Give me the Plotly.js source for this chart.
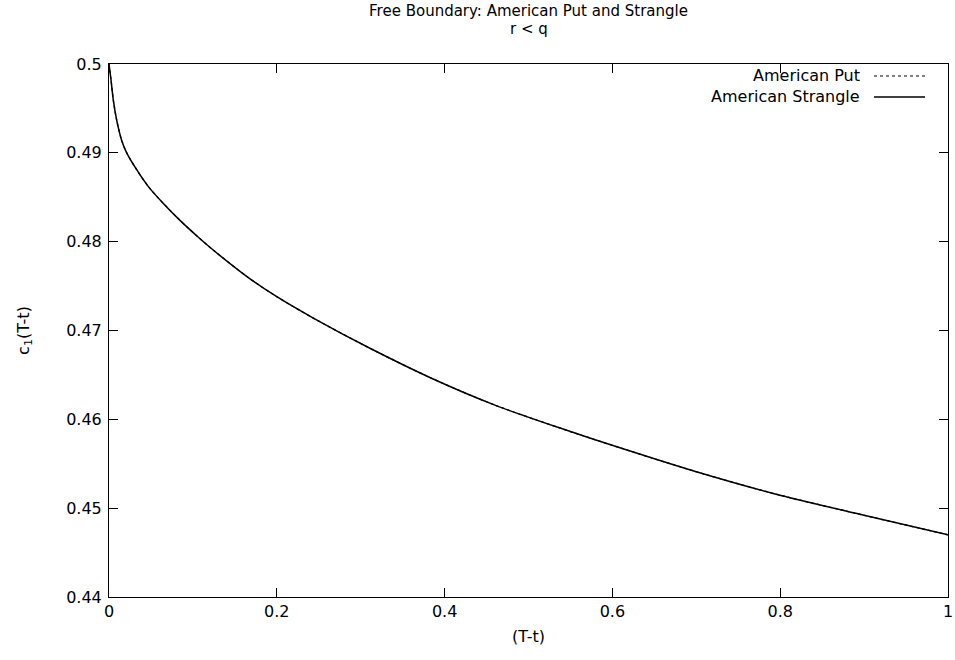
<!DOCTYPE html>
<html>
<head>
<meta charset="utf-8">
<script src="https://cdn.plot.ly/plotly-3.0.1.min.js"></script>
<style>body{margin:0;padding:0;background:#fff;}#chart{width:955px;height:660px;}</style>
</head>
<body>
<div id="chart"></div>
<script>
// Data
const tau = [0, 0.0024, 0.0052, 0.0091, 0.0151, 0.0211, 0.033, 0.0469, 0.0648, 0.0846, 0.1065, 0.1224, 0.164, 0.2, 0.2435, 0.311, 0.385, 0.46, 0.535, 0.609, 0.70, 0.794, 0.90, 1.0];
const putBoundary = [0.5, 0.4982, 0.4959, 0.4937, 0.4914, 0.4900, 0.4881, 0.4862, 0.4843, 0.4824, 0.4805, 0.4792, 0.4761, 0.4738, 0.4714, 0.4680, 0.4646, 0.4616, 0.4591, 0.4568, 0.4541, 0.4516, 0.4492, 0.4470];
const strangleBoundary = [0.5, 0.4982, 0.4959, 0.4937, 0.4914, 0.4900, 0.4881, 0.4862, 0.4843, 0.4824, 0.4805, 0.4792, 0.4761, 0.4738, 0.4714, 0.4680, 0.4646, 0.4616, 0.4591, 0.4568, 0.4541, 0.4516, 0.4492, 0.4470];
const seriesNames = ["American Put", "American Strangle"];
const titleLines = ["Free Boundary: American Put and Strangle", "r < q"];
const xTickVals = [0, 0.2, 0.4, 0.6, 0.8, 1];
const xTickText = ["0", "0.2", "0.4", "0.6", "0.8", "1"];
const yTickVals = [0.44, 0.45, 0.46, 0.47, 0.48, 0.49, 0.5];
const yTickText = ["0.44", "0.45", "0.46", "0.47", "0.48", "0.49", "0.5"];

const FONT = "DejaVu Sans, Liberation Sans, Arial, sans-serif";
const FS = 16;
const TFS = 15;

const traces = [
  {x: tau, y: putBoundary, name: seriesNames[0], mode: "lines", type: "scatter",
   line: {color: "#000", width: 1.3, dash: "3px,3px", shape: "spline", smoothing: 0.8}},
  {x: tau, y: strangleBoundary, name: seriesNames[1], mode: "lines", type: "scatter",
   line: {color: "#000", width: 1.5, shape: "spline", smoothing: 0.8}}
];

const layout = {
  width: 955, height: 660,
  margin: {l: 109, r: 7, t: 64, b: 63},
  paper_bgcolor: "#fff", plot_bgcolor: "#fff",
  showlegend: false,
  font: {family: FONT, size: FS, color: "#000"},
  title: {text: titleLines[0], x: 0.5, xanchor: "center", xref: "paper",
          y: 1 - 11 / 660, yanchor: "middle", font: {family: FONT, size: TFS, color: "#000"}},
  xaxis: {range: [0, 1], tickvals: xTickVals, ticktext: xTickText, ticks: "inside", ticklen: 9,
          tickcolor: "#000", showline: true, linecolor: "#000", linewidth: 1, mirror: "ticks",
          showgrid: false, zeroline: false, tickfont: {family: FONT, size: FS},
          title: {text: "(T-t)", font: {family: FONT, size: FS}, standoff: 10}},
  yaxis: {range: [0.44, 0.5], tickvals: yTickVals, ticktext: yTickText, ticks: "inside", ticklen: 9,
          tickcolor: "#000", showline: true, linecolor: "#000", linewidth: 1, mirror: "ticks",
          showgrid: false, zeroline: false, tickfont: {family: FONT, size: FS}, ticklabelstandoff: 3,
          title: {text: "c<sub>1</sub>(T-t)", font: {family: FONT, size: FS}, standoff: 32}},
  annotations: [
    {xref: "paper", yref: "paper", x: 0.5, y: (597 - 29) / 533, xanchor: "center", yanchor: "middle",
     text: titleLines[1], showarrow: false, font: {family: FONT, size: TFS}},
    {xref: "paper", yref: "paper", x: 0.8975, y: 0.9775, xanchor: "right", yanchor: "middle",
     text: seriesNames[0], showarrow: false, font: {family: FONT, size: FS}},
    {xref: "paper", yref: "paper", x: 0.8975, y: 0.9381, xanchor: "right", yanchor: "middle",
     text: seriesNames[1], showarrow: false, font: {family: FONT, size: FS}}
  ],
  shapes: [
    {type: "line", xref: "paper", yref: "paper", x0: 0.9118, x1: 0.9726, y0: 0.9775, y1: 0.9775,
     line: {color: "#000", width: 1, dash: "3px,3px"}},
    {type: "line", xref: "paper", yref: "paper", x0: 0.9118, x1: 0.9726, y0: 0.9381, y1: 0.9381,
     line: {color: "#000", width: 1.5}}
  ]
};

Plotly.newPlot("chart", traces, layout, {staticPlot: true, displayModeBar: false});
</script>
</body>
</html>
